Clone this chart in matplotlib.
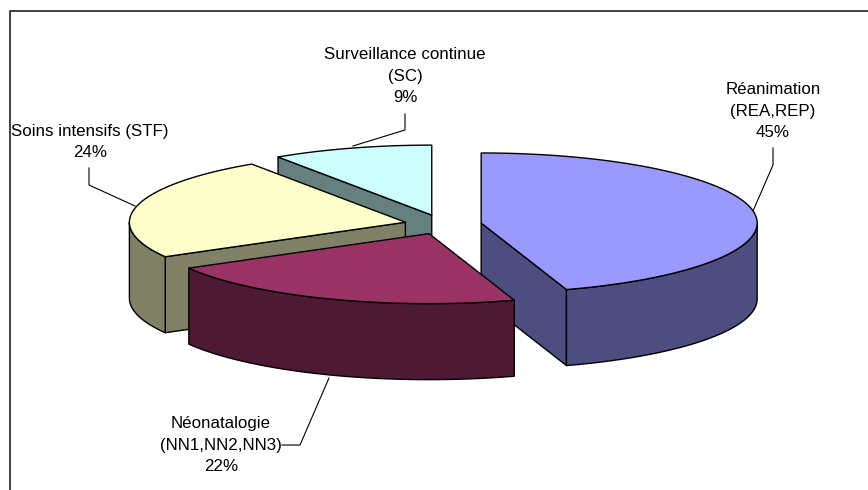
import numpy as np
import matplotlib
matplotlib.use('Agg')
import matplotlib.pyplot as plt

plt.rcParams['font.family'] = ['Liberation Sans', 'DejaVu Sans']

labels = ['Réanimation\n(REA,REP)', 'Néonatalogie\n(NN1,NN2,NN3)', 'Soins intensifs (STF)', 'Surveillance continue\n(SC)']
values = [45.0, 21.8, 23.8, 9.4]
top_colors = ['#9999FF', '#993366', '#FFFFCC', '#CCFFFF']
side_colors = ['#4D4D80', '#4D1933', '#808066', '#668080']

# pie geometry, in pixels
cx, cy = 443, 224.5
rx, ry = 276, 70
depth = 76
explode = 0.14

fig = plt.figure(figsize=(8.68, 4.90), dpi=100)
ax = fig.add_axes([0, 0, 1, 1])
ax.set_xlim(0, 868)
ax.set_ylim(490, 0)
ax.axis('off')

# frame, only top and left are in the crop
ax.plot([868, 9.5, 9.5], [11.5, 11.5, 490], color='#222222', lw=1.2)

edges = np.cumsum([0] + values) * 3.6


def pt(a, x0, y0):
    t = np.radians(a)
    return x0 + rx * np.sin(t), y0 - ry * np.cos(t)


def draw_slice(i):
    a0, a1 = edges[i], edges[i + 1]
    mid = np.radians((a0 + a1) / 2)
    x0 = cx + explode * rx * np.sin(mid)
    y0 = cy - explode * ry * np.cos(mid)
    kw = dict(edgecolor='black', lw=1.0, joinstyle='round')

    # cut faces that look towards the viewer
    for a, show in ((a0, 180 < a0 < 360), (a1, 0 < a1 < 180)):
        if show:
            x1, y1 = pt(a, x0, y0)
            ax.fill([x0, x1, x1, x0], [y0, y1, y1 + depth, y0 + depth], facecolor=side_colors[i], **kw)

    # outer wall, only the front half of the ellipse
    lo, hi = max(a0, 90), min(a1, 270)
    if lo < hi:
        t = np.linspace(lo, hi, 80)
        xs, ys = pt(t, x0, y0)
        ax.fill(np.r_[xs, xs[::-1]], np.r_[ys, ys[::-1] + depth], facecolor=side_colors[i], **kw)

    # top
    t = np.linspace(a0, a1, 160)
    xs, ys = pt(t, x0, y0)
    ax.fill(np.r_[x0, xs], np.r_[y0, ys], facecolor=top_colors[i], **kw)


for i in [3, 0, 2, 1]:
    draw_slice(i)

# leader lines
ax.plot([773, 773, 753], [148, 165, 211], color='black', lw=0.8)
ax.plot([405, 405, 353], [114, 130, 146], color='black', lw=0.8)
ax.plot([89, 89, 135], [168, 185, 206], color='black', lw=0.8)
ax.plot([282, 300, 329], [445, 445, 378], color='black', lw=0.8)

# data labels
fs = 12.2
lab_pos = [(773, 111), (221, 445), (90, 142), (405, 76)]
for lab, v, (x, y) in zip(labels, values, lab_pos):
    ax.text(x, y, '%s\n%d%%' % (lab, round(v)), ha='center', va='center', fontsize=fs,
            linespacing=1.57, color='black')

fig.savefig('out.png', dpi=100)
